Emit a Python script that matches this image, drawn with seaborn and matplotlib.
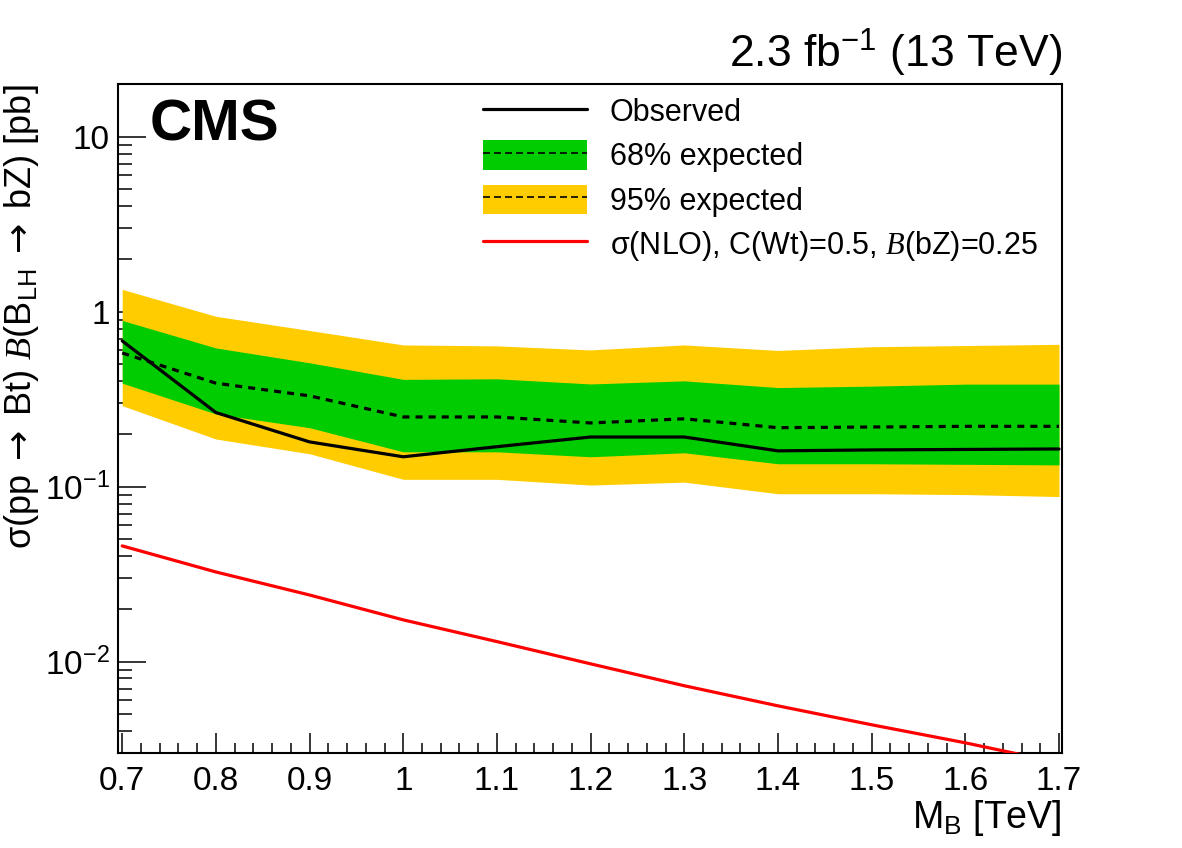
import numpy as np
import pandas as pd
import matplotlib
matplotlib.use("Agg")
import matplotlib.pyplot as plt
import seaborn as sns
from matplotlib.lines import Line2D
from matplotlib.patches import Patch
from matplotlib.ticker import FuncFormatter, MultipleLocator, LogLocator, NullFormatter

# ---------------- data ----------------
mass = [0.7, 0.8, 0.9, 1.0, 1.1, 1.2, 1.3, 1.4, 1.5, 1.6, 1.7]
observed = [0.68, 0.265, 0.18, 0.148, 0.169, 0.192, 0.192, 0.160, 0.162, 0.163, 0.164]
expected = [0.58, 0.39, 0.33, 0.25, 0.25, 0.231, 0.244, 0.217, 0.219, 0.221, 0.221]
exp68_lo = [0.39, 0.26, 0.217, 0.158, 0.158, 0.148, 0.156, 0.135, 0.135, 0.134, 0.133]
exp68_hi = [0.89, 0.62, 0.51, 0.41, 0.413, 0.386, 0.402, 0.368, 0.375, 0.385, 0.385]
exp95_lo = [0.29, 0.187, 0.154, 0.110, 0.110, 0.102, 0.106, 0.091, 0.091, 0.090, 0.0877]
exp95_hi = [1.34, 0.94, 0.78, 0.645, 0.637, 0.604, 0.645, 0.60, 0.63, 0.64, 0.65]
theory = [0.0458, 0.0325, 0.024, 0.0173, 0.013, 0.0097, 0.00727, 0.00558, 0.00435, 0.00343, 0.00264]

x_ticks = [0.7, 0.8, 0.9, 1.0, 1.1, 1.2, 1.3, 1.4, 1.5, 1.6, 1.7]
legend_labels = ["Observed", "68% expected", "95% expected",
                 r"σ(NLO), C(Wt)=0.5, $\mathcal{B}$(bZ)=0.25"]

GREEN = "#00CC00"
YELLOW = "#FFCC00"
RED = "#FF0000"

df = pd.DataFrame({"mass": mass, "observed": observed, "expected": expected,
                   "theory": theory})

# ---------------- style ----------------
sns.set_theme(style="ticks")
plt.rcParams["font.family"] = ["Liberation Sans", "DejaVu Sans"]
plt.rcParams["mathtext.fontset"] = "custom"
plt.rcParams["mathtext.rm"] = "Liberation Sans"
plt.rcParams["mathtext.it"] = "Liberation Sans:italic"
plt.rcParams["mathtext.bf"] = "Liberation Sans:bold"
plt.rcParams["mathtext.sf"] = "DejaVu Sans"
plt.rcParams["mathtext.cal"] = "Liberation Serif:italic"
plt.rcParams["mathtext.default"] = "regular"
plt.rcParams["text.color"] = "black"
plt.rcParams["axes.labelcolor"] = "black"
plt.rcParams["xtick.color"] = "black"
plt.rcParams["ytick.color"] = "black"

fig = plt.figure(figsize=(11.82, 8.48), dpi=100)
ax = fig.add_axes([118 / 1182, 1 - 753 / 848, 944 / 1182, 669 / 848])

# bands
ax.fill_between(mass, exp95_lo, exp95_hi, color=YELLOW, lw=0, zorder=1)
ax.fill_between(mass, exp68_lo, exp68_hi, color=GREEN, lw=0, zorder=2)

# lines via seaborn
sns.lineplot(data=df, x="mass", y="expected", ax=ax, color="black", lw=2.3,
             linestyle=(0, (2.2, 1.9)), estimator=None, sort=False, zorder=3)
sns.lineplot(data=df, x="mass", y="observed", ax=ax, color="black", lw=2.3,
             estimator=None, sort=False, zorder=4)
sns.lineplot(data=df, x="mass", y="theory", ax=ax, color=RED, lw=2.3,
             estimator=None, sort=False, zorder=4)

ax.set_yscale("log")
ax.set_xlim(0.6955, 1.7032)
ax.set_ylim(0.003, 20)

# ticks
ax.xaxis.set_major_locator(MultipleLocator(0.1))
ax.xaxis.set_minor_locator(MultipleLocator(0.02))
ax.xaxis.set_major_formatter(FuncFormatter(lambda v, p: "%g" % round(v, 3)))
ax.yaxis.set_major_locator(LogLocator(base=10, numticks=10))
ax.yaxis.set_minor_locator(LogLocator(base=10, subs=np.arange(2, 10), numticks=20))
ax.yaxis.set_minor_formatter(NullFormatter())


def yfmt(v, pos):
    e = int(round(np.log10(v)))
    if e == 1:
        return "10"
    if e == 0:
        return "1"
    return r"$10^{%d}$" % e


ax.yaxis.set_major_formatter(FuncFormatter(yfmt))

ax.tick_params(axis="both", which="both", direction="in", top=False, right=False,
               labelsize=24, width=1.1, color="black", labelcolor="black")
ax.tick_params(axis="x", which="major", length=14.5, pad=9)
ax.tick_params(axis="x", which="minor", length=7)
ax.tick_params(axis="y", which="major", length=20, pad=6)
ax.tick_params(axis="y", which="minor", length=10)
for s in ax.spines.values():
    s.set_linewidth(1.5)
    s.set_color("black")
    s.set_visible(True)

ax.set_xlabel(r"M$_{\mathrm{B}}$ [TeV]", fontsize=27, loc="right")
ax.xaxis.set_label_coords(1.0, -0.068)
ax.set_ylabel(r"σ(pp$\;\mathsf{\rightarrow}\;$Bt) $\mathcal{B}$(B$_{\mathrm{LH}}$$\;\mathsf{\rightarrow}\;$bZ) [pb]",
              fontsize=26, loc="top")
ax.yaxis.set_label_coords(-0.082, 1.0)

ax.text(1.0, 1.008, r"2.3 fb$^{-1}$ (13 TeV)", transform=ax.transAxes,
        ha="right", va="bottom", fontsize=32)
ax.text(0.034, 0.979, "CMS", transform=ax.transAxes, ha="left", va="top",
        fontsize=42, fontweight="bold")

# legend
handles = [
    Line2D([], [], color="black", lw=2.3),
    (Patch(facecolor=GREEN, edgecolor="none"),
     Line2D([], [], color="black", lw=1.2, linestyle=(0, (4.2, 2.4)))),
    (Patch(facecolor=YELLOW, edgecolor="none"),
     Line2D([], [], color="black", lw=1.2, linestyle=(0, (4.2, 2.4)))),
    Line2D([], [], color=RED, lw=2.3),
]
fig.legend(handles, legend_labels, loc="upper left",
           bbox_to_anchor=(483 / 1182, 1 - 96 / 848), frameon=False,
           fontsize=22, handlelength=3.4, handleheight=1.1, labelspacing=0.4,
           handletextpad=0.75, borderpad=0, borderaxespad=0)

fig.savefig("out.png", dpi=100)
